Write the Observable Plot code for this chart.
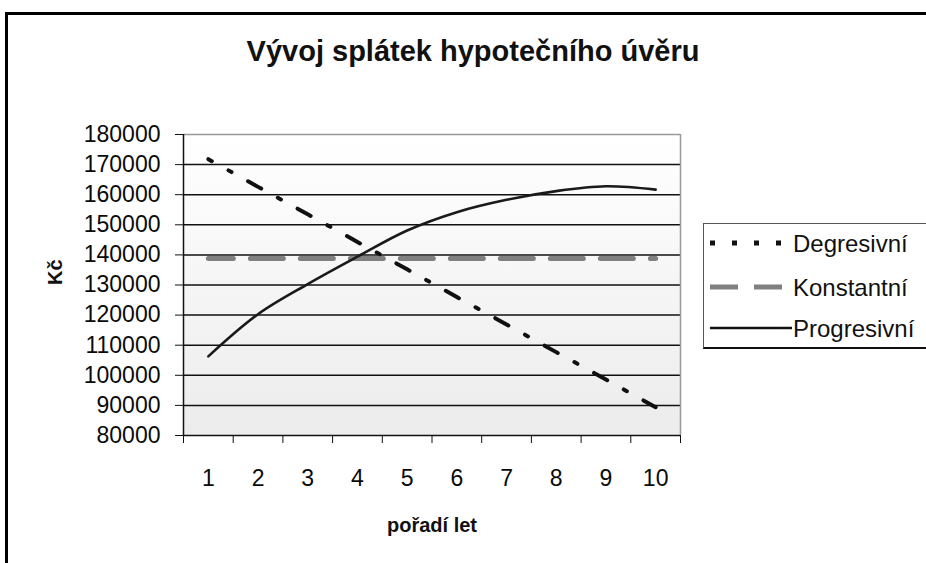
<!DOCTYPE html>
<html>
<head>
<meta charset="utf-8">
<script src="https://cdn.jsdelivr.net/npm/d3@7"></script>
<script src="https://cdn.jsdelivr.net/npm/@observablehq/plot@0.6"></script>
<style>
  html, body { margin: 0; padding: 0; background: #fff; overflow: hidden; }
  body { width: 926px; height: 563px; position: relative; font-family: "Liberation Sans", Arial, sans-serif; }
  #frame { position: absolute; left: 5px; top: 12px; width: 921px; height: 551px; border-left: 3px solid #000; border-top: 3px solid #000; box-sizing: border-box; }
  #title { position: absolute; left: 20px; width: 906px; top: 35px; text-align: center; font-weight: bold; font-size: 29px; color: #111; white-space: nowrap; }
  #chart { position: absolute; left: 0; top: 0; width: 926px; height: 563px; overflow: hidden; }
  #legend { position: absolute; left: 703px; top: 223px; width: 223px; height: 126px; border: 1px solid #555; border-right: none; border-bottom: 2px solid #111; background: #fff; box-sizing: border-box; }
  .row { position: absolute; left: 0; height: 30px; }
  .row svg { position: absolute; left: 6px; top: 0; }
  .row span { position: absolute; left: 89px; top: 1px; font-size: 24px; color: #111; white-space: nowrap; }
</style>
</head>
<body>
<div id="frame"></div>
<div id="chart"></div>
<div id="title">Vývoj splátek hypotečního úvěru</div>
<div id="legend"></div>
<script>
const years = [1, 2, 3, 4, 5, 6, 7, 8, 9, 10];
const degresivni = [171800, 162600, 153500, 144300, 135200, 126000, 116900, 107700, 98600, 89400];
const konstantni = [138800, 138800, 138800, 138800, 138800, 138800, 138800, 138800, 138800, 138800];
const progresivni = [106300, 120300, 130300, 139400, 148100, 154200, 158300, 161200, 162800, 161700];
const seriesNames = ["Degresivní", "Konstantní", "Progresivní"];
const yTicks = [80000, 90000, 100000, 110000, 120000, 130000, 140000, 150000, 160000, 170000, 180000];
const xBounds = [0.5, ...years.map(d => d + 0.5)];

const rows = (vals) => years.map((y, i) => ({year: y, value: vals[i]}));

const fontFam = "'Liberation Sans', Arial, sans-serif";

const chart = Plot.plot({
  width: 926,
  height: 563,
  marginLeft: 183,
  marginRight: 246,
  marginTop: 134,
  marginBottom: 128,
  style: {fontFamily: fontFam, background: "transparent"},
  x: {domain: [0.5, 10.5]},
  y: {domain: [80000, 180000]},
  marks: [
    Plot.frame({fill: "url(#bgGrad)", stroke: "none"}),
    Plot.ruleY(yTicks.filter(d => d > 80000 && d < 180000), {stroke: "#111", strokeWidth: 1.5}),
    Plot.ruleY([180000], {stroke: "#999", strokeWidth: 1.5}),
    Plot.ruleX([10.5], {stroke: "#999", strokeWidth: 1.5}),
    Plot.line(rows(konstantni), {x: "year", y: "value", stroke: "#808080", strokeWidth: 5, strokeDasharray: "33,17", strokeDashoffset: 8}),
    Plot.line(rows(degresivni), {x: "year", y: "value", stroke: "#111", strokeWidth: 4, strokeDasharray: "15,19,3.5,19", strokeDashoffset: 11}),
    Plot.line(rows(progresivni), {x: "year", y: "value", stroke: "#1a1a1a", strokeWidth: 2.6, curve: "catmull-rom"}),
    Plot.ruleX([0.5], {stroke: "#111", strokeWidth: 1.5}),
    Plot.ruleY([80000], {stroke: "#111", strokeWidth: 1.5}),
    Plot.axisY({ticks: yTicks, tickSize: 8, tickPadding: 15, tickFormat: d => String(d), fontSize: 23, fill: "#0a0a0a", stroke: "#111", label: null}),
    Plot.axisX({ticks: xBounds, tickSize: 8, tickFormat: () => "", label: null, stroke: "#111"}),
    Plot.axisX({ticks: years, tickSize: 0, tickPadding: 34, tickFormat: d => String(d), fontSize: 23, fill: "#0a0a0a", label: null}),
    Plot.text(["pořadí let"], {frameAnchor: "bottom", dy: 96, fontSize: 20, fontWeight: "bold", fill: "#111"}),
    Plot.text(["Kč"], {frameAnchor: "left", dx: -128, rotate: -90, fontSize: 20, fontWeight: "bold", fill: "#111"})
  ]
});

const defs = d3.select(chart).insert("defs", ":first-child");
const grad = defs.append("linearGradient").attr("id", "bgGrad").attr("x1", 0).attr("y1", 0).attr("x2", 0).attr("y2", 1);
grad.append("stop").attr("offset", "0%").attr("stop-color", "#ffffff");
grad.append("stop").attr("offset", "100%").attr("stop-color", "#ececec");

document.getElementById("chart").appendChild(chart);

// Legend
const legend = document.getElementById("legend");
const styles = [
  {stroke: "#111", width: 5, dash: "5,17"},
  {stroke: "#808080", width: 5, dash: "28,16"},
  {stroke: "#111", width: 2.6, dash: null}
];
const rowTops = [5, 49, 90];
seriesNames.forEach((name, i) => {
  const row = document.createElement("div");
  row.className = "row";
  row.style.top = rowTops[i] + "px";
  const s = styles[i];
  row.innerHTML = `<svg width="82" height="30"><line x1="0" y1="14" x2="82" y2="14" stroke="${s.stroke}" stroke-width="${s.width}" ${s.dash ? `stroke-dasharray="${s.dash}"` : ""}/></svg><span>${name}</span>`;
  legend.appendChild(row);
});
</script>
</body>
</html>
